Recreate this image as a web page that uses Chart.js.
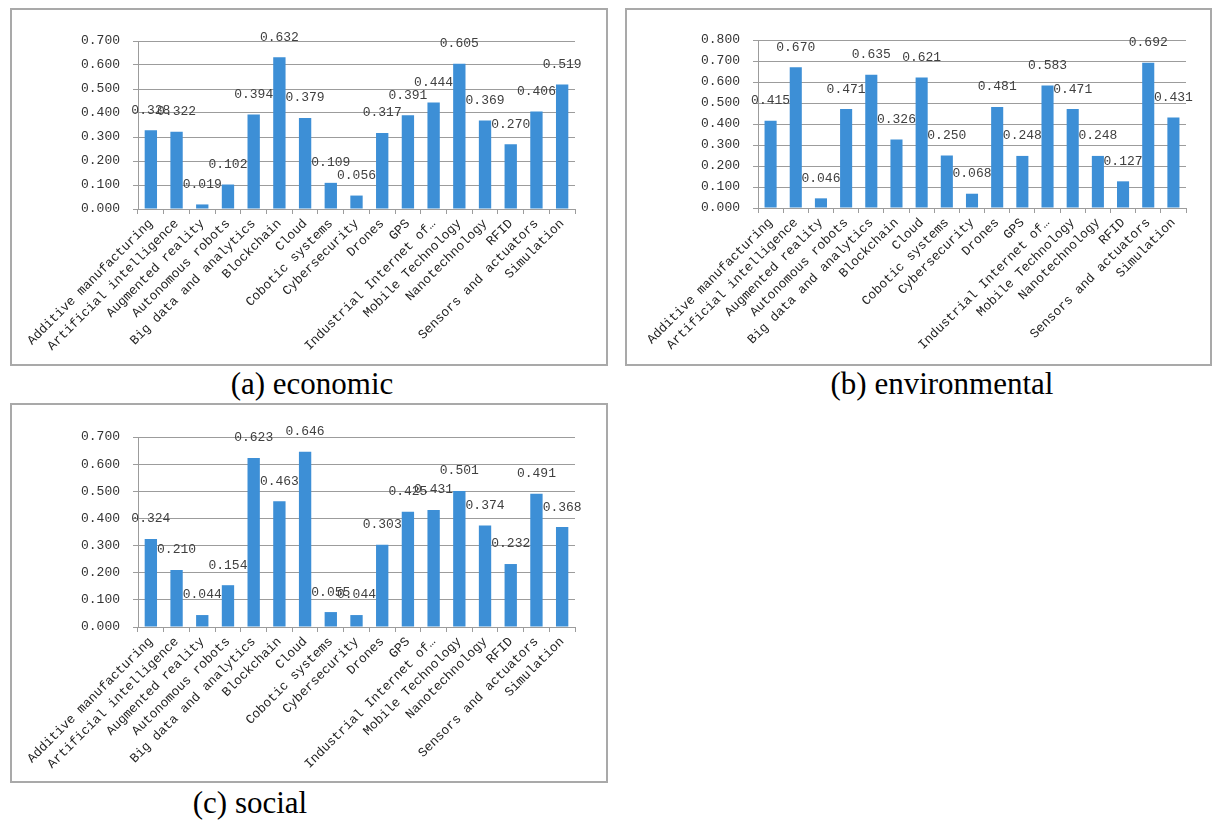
<!DOCTYPE html>
<html>
<head>
<meta charset="utf-8">
<script src="https://cdn.jsdelivr.net/npm/chart.js@4"></script>
<style>
  body { margin: 0; background: #fff; width: 1214px; height: 821px; position: relative; overflow: hidden; }
  .panel { position: absolute; }
  .frame { position: absolute; border: 2px solid #a9a9a9; box-sizing: border-box; pointer-events: none; }
  .caption { position: absolute; font-family: "Liberation Serif", serif; font-size: 31px; line-height: 31px; color: #000; transform: translateX(-50%); white-space: nowrap; }
</style>
</head>
<body>

<div class="panel" id="boxA"><canvas id="chartA"></canvas></div>
<div class="frame" id="frameA"></div>
<div class="caption" style="left:312px; top:368px;">(a) economic</div>

<div class="panel" id="boxB"><canvas id="chartB"></canvas></div>
<div class="frame" id="frameB"></div>
<div class="caption" style="left:942px; top:368px;">(b) environmental</div>

<div class="panel" id="boxC"><canvas id="chartC"></canvas></div>
<div class="frame" id="frameC"></div>
<div class="caption" style="left:250px; top:787px;">(c) social</div>

<script>
// data
var categories = [
  'Additive manufacturing', 'Artificial intelligence', 'Augmented reality',
  'Autonomous robots', 'Big data and analytics', 'Blockchain', 'Cloud',
  'Cobotic systems', 'Cybersecurity', 'Drones', 'GPS', 'Industrial Internet of\u2026',
  'Mobile Technology', 'Nanotechnology', 'RFID', 'Sensors and actuators', 'Simulation'
];
var economic = [0.328, 0.322, 0.019, 0.102, 0.394, 0.632, 0.379, 0.109, 0.056, 0.317, 0.391, 0.444, 0.605, 0.369, 0.270, 0.406, 0.519];
var environmental = [0.415, 0.670, 0.046, 0.471, 0.635, 0.326, 0.621, 0.250, 0.068, 0.481, 0.248, 0.583, 0.471, 0.248, 0.127, 0.692, 0.431];
var social = [0.324, 0.210, 0.044, 0.154, 0.623, 0.463, 0.646, 0.055, 0.044, 0.303, 0.425, 0.431, 0.501, 0.374, 0.232, 0.491, 0.368];
var ticks07 = [0, 0.1, 0.2, 0.3, 0.4, 0.5, 0.6, 0.7];
var ticks08 = [0, 0.1, 0.2, 0.3, 0.4, 0.5, 0.6, 0.7, 0.8];

var monoFont = { family: '"Liberation Mono", monospace', size: 13 };
var gridColor = '#9c9c9c';

// value labels above each bar
var valueLabels = {
  id: 'valueLabels',
  afterDatasetsDraw: function (chart) {
    var ctx = chart.ctx;
    var meta = chart.getDatasetMeta(0);
    var data = chart.data.datasets[0].data;
    ctx.save();
    ctx.font = '13px "Liberation Mono", monospace';
    ctx.fillStyle = '#404040';
    ctx.textAlign = 'center';
    ctx.textBaseline = 'middle';
    meta.data.forEach(function (bar, i) {
      ctx.fillText(data[i].toFixed(3), bar.x, bar.y - 20);
    });
    ctx.restore();
  }
};

// box: left, top, width, height ; plot: left, right, top, bottom (page px)
function createChart(id, values, tickValues, box, plot) {
  var wrap = document.getElementById('box' + id);
  var frame = document.getElementById('frame' + id);
  [wrap, frame].forEach(function (el) {
    el.style.left = box[0] + 'px';
    el.style.top = box[1] + 'px';
    el.style.width = box[2] + 'px';
    el.style.height = box[3] + 'px';
  });
  var canvas = document.getElementById('chart' + id);
  canvas.width = box[2];
  canvas.height = box[3];

  var yWidth = plot[0] - box[0];
  var padRight = box[0] + box[2] - plot[1];
  var padTop = plot[2] - box[1];
  var xHeight = box[1] + box[3] - plot[3];

  return new Chart(canvas, {
    type: 'bar',
    data: {
      labels: categories,
      datasets: [{
        data: values,
        backgroundColor: '#3d8fd6',
        barPercentage: 0.48,
        categoryPercentage: 1
      }]
    },
    options: {
      responsive: false,
      animation: false,
      layout: { padding: { top: padTop, right: padRight, left: 0, bottom: 0 } },
      plugins: { legend: { display: false }, tooltip: { enabled: false } },
      scales: {
        x: {
          offset: true,
          grid: { offset: true, drawOnChartArea: false, drawTicks: true, tickLength: 5, color: gridColor },
          border: { display: true, color: gridColor, width: 1 },
          ticks: { font: monoFont, color: '#222', maxRotation: 45, minRotation: 45, autoSkip: false, padding: 2 },
          afterFit: function (s) { s.height = xHeight; }
        },
        y: {
          min: 0,
          max: tickValues[tickValues.length - 1],
          grid: { color: gridColor, tickLength: 5 },
          border: { display: true, color: gridColor, width: 1 },
          ticks: {
            font: monoFont, color: '#333', padding: 13,
            callback: function (v) { return Number(v).toFixed(3); }
          },
          afterBuildTicks: function (s) {
            s.ticks = tickValues.map(function (v) { return { value: v }; });
          },
          afterFit: function (s) { s.width = yWidth; }
        }
      }
    },
    plugins: [valueLabels]
  });
}

createChart('A', economic, ticks07, [10, 8, 598, 358], [138, 575, 41, 209]);
createChart('B', environmental, ticks08, [625, 8, 587, 358], [758, 1186, 40, 208]);
createChart('C', social, ticks07, [10, 403, 598, 380], [138, 575, 437, 627]);
</script>
</body>
</html>
